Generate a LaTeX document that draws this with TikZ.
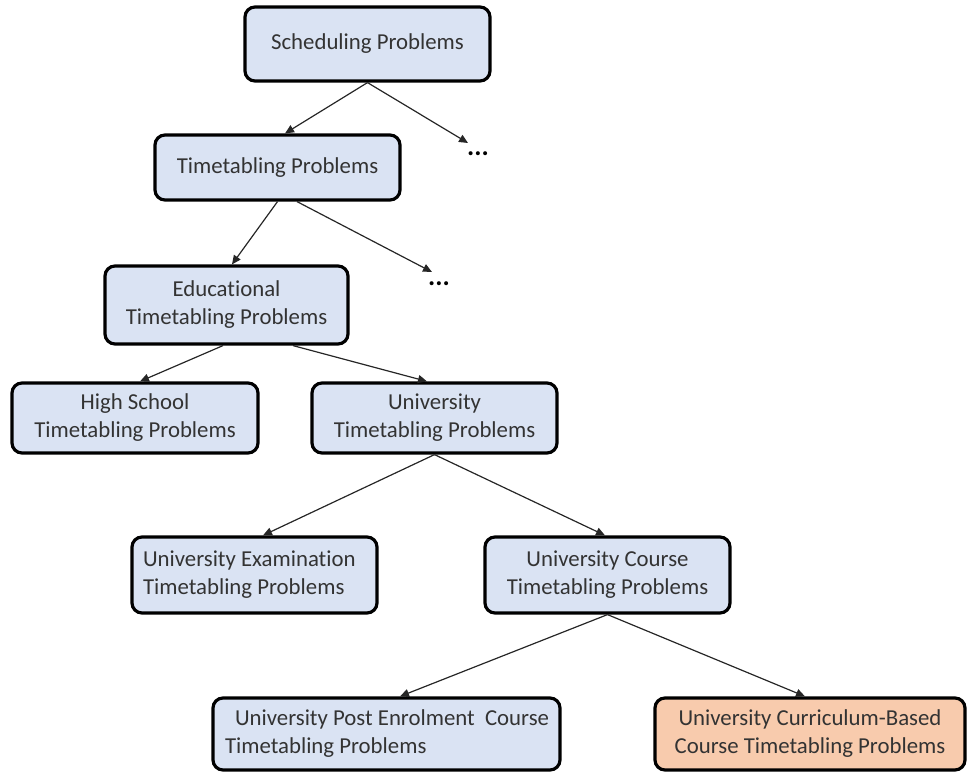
\documentclass[tikz,border=0pt]{standalone}
\usepackage{fontspec}
\setmainfont{Carlito}[Ligatures={NoCommon,NoContextual}]
\usetikzlibrary{arrows.meta}
\definecolor{boxblue}{HTML}{DAE3F3}
\definecolor{boxorange}{HTML}{F8CBAD}
\definecolor{txtgray}{HTML}{333333}
\tikzset{
  pbox/.style={draw=black, line width=3.2pt, rounded corners=10pt, fill=boxblue,
    text=txtgray, font=\fontsize{22.8}{28}\selectfont, align=center, inner sep=0pt},
  arr/.style={draw=black!85, line width=1.2pt, -{Triangle[length=9pt,width=8pt]}},
  dotsnode/.style={inner sep=0pt, text=black, font=\fontsize{27}{28}\selectfont\bfseries}
}
\begin{document}
\begin{tikzpicture}[x=1pt,y=-1pt]
\useasboundingbox (0,0) rectangle (970,773);
\node[pbox, minimum width=245pt, minimum height=74pt] (sched) at (367.5,44) {Scheduling Problems};
\node[pbox, minimum width=245pt, minimum height=65pt] (time) at (277.5,167.5) {Timetabling Problems};
\node[pbox, minimum width=243pt, minimum height=78pt] (edu) at (226.5,305) {Educational\\Timetabling Problems};
\node[pbox, minimum width=246pt, minimum height=70pt] (high) at (135,418) {High School\\Timetabling Problems};
\node[pbox, minimum width=245pt, minimum height=70pt] (univ) at (434.5,418) {University\\Timetabling Problems};
\node[pbox, minimum width=245pt, minimum height=76pt, text width=223pt, align=flush left] (exam) at (254.5,575) {University Examination\\Timetabling Problems};
\node[pbox, minimum width=245pt, minimum height=76pt] (course) at (607.5,575) {University Course\\Timetabling Problems};
\node[pbox, minimum width=347pt, minimum height=72pt, text width=323pt, align=flush left] (post) at (386.5,734) {\hspace*{10pt}\mbox{University Post Enrolment\ \ Course}\\Timetabling Problems};
\node[pbox, fill=boxorange, minimum width=310pt, minimum height=72pt] (cur) at (810,734) {University Curriculum-Based\\Course Timetabling Problems};
\node[dotsnode] (d1) at (478,154) {...};
\node[dotsnode] (d2) at (439,284) {...};

\draw[arr] (sched.south) -- ([xshift=7.5pt]time.north);
\draw[arr] (sched.south) -- ([shift={(-10pt,11pt)}]d1.center);
\draw[arr] (time.south) -- ([xshift=5.5pt]edu.north);
\draw[arr] ([xshift=19.5pt]time.south) -- ([shift={(-7pt,12pt)}]d2.center);
\draw[arr] ([xshift=-3.5pt]edu.south) -- ([xshift=5pt]high.north);
\draw[arr] ([xshift=66.5pt]edu.south) -- ([xshift=-7.5pt]univ.north);
\draw[arr] (univ.south) -- ([xshift=8.5pt]exam.north);
\draw[arr] (univ.south) -- ([xshift=-2.5pt]course.north);
\draw[arr] (course.south) -- ([xshift=13.5pt]post.north);
\draw[arr] (course.south) -- ([xshift=-5pt]cur.north);
\end{tikzpicture}
\end{document}
